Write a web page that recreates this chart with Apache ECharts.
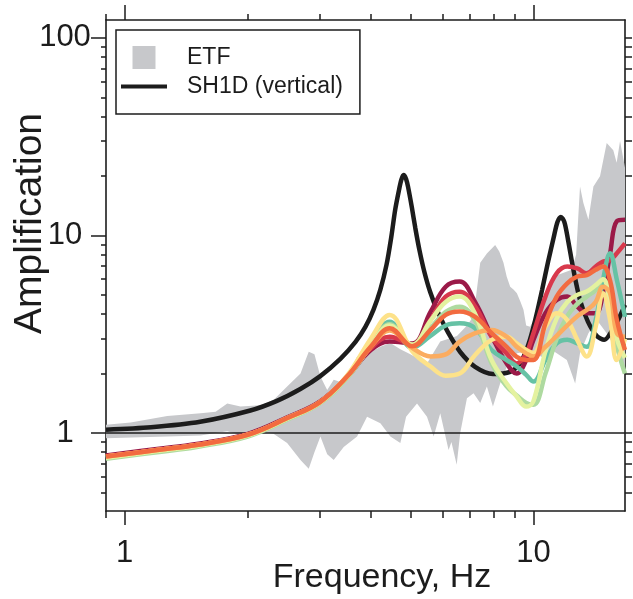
<!DOCTYPE html>
<html>
<head>
<meta charset="utf-8">
<script src="https://cdn.jsdelivr.net/npm/echarts@6/dist/echarts.min.js"></script>
<style>
  html, body { margin: 0; padding: 0; background: #fff; }
  #chart { width: 633px; height: 599px; }
</style>
</head>
<body>
<div id="chart"></div>
<script>
// Axis ranges (Hz, amplification)
const X_MIN = 0.9, X_MAX = 16.75;
const Y_MIN = 0.403, Y_MAX = 123;

// Tick positions
const xMajorTicks = [1, 10];
const xMinorTicks = [0.9, 2, 3, 4, 5, 6, 7, 8, 9];
const yMajorTicks = [1, 10, 100];
const yMinorTicks = [0.5, 0.6, 0.7, 0.8, 0.9, 2, 3, 4, 5, 6, 7, 8, 9, 20, 30, 40, 50, 60, 70, 80, 90];
const yAllTicks = yMinorTicks.concat(yMajorTicks);

// Empirical transfer function envelope: [frequency, amplification]
const etfUpper = [
  [0.899, 1.10], [1.034, 1.13], [1.271, 1.22], [1.534, 1.26], [1.669, 1.28], [1.782, 1.41],
  [1.92, 1.36], [2.149, 1.38], [2.312, 1.47], [2.497, 1.72], [2.692, 2.0], [2.82, 2.58],
  [2.912, 2.5], [3.012, 1.93], [3.129, 1.65], [3.246, 1.86], [3.434, 1.79], [3.703, 2.44],
  [3.917, 2.5], [4.222, 2.73], [4.467, 2.85], [4.725, 2.65], [4.998, 2.5], [5.49, 2.25],
  [5.916, 2.9], [6.5, 3.1], [6.876, 3.5], [7.136, 3.9], [7.41, 7.26], [7.693, 8.1],
  [8.06, 8.95], [8.25, 8.3], [8.447, 7.26], [8.6, 6.2], [8.772, 5.5], [8.95, 5.3],
  [9.11, 5.1], [9.3, 4.6], [9.455, 4.2], [9.6, 3.5], [9.815, 3.45], [10.1, 3.87],
  [10.58, 4.9], [11.19, 6.2], [12.41, 6.7], [12.72, 8.0], [13.0, 17.7], [13.25, 14.6],
  [13.63, 12.0], [14.02, 17.7], [14.55, 19.9], [15.11, 29.3], [15.68, 27.0], [15.98, 23.3],
  [16.29, 30.0], [16.75, 22.0]
];
const etfLower = [
  [0.899, 0.94], [1.271, 0.96], [1.534, 0.97], [1.669, 1.0], [1.782, 1.02], [1.92, 0.98],
  [2.149, 1.02], [2.312, 0.99], [2.497, 0.89], [2.692, 0.73], [2.82, 0.66], [2.912, 0.8],
  [3.012, 0.96], [3.129, 0.78], [3.246, 0.73], [3.434, 0.85], [3.703, 0.96], [3.917, 1.21],
  [4.222, 1.12], [4.467, 0.96], [4.725, 0.89], [4.88, 1.21], [5.19, 1.41], [5.49, 1.21],
  [5.70, 0.96], [5.916, 1.26], [6.2, 0.82], [6.3, 0.9], [6.49, 0.69], [6.62, 1.0],
  [6.876, 1.5], [7.136, 1.59], [7.41, 1.42], [7.693, 1.72], [7.96, 1.36], [8.29, 1.78],
  [8.61, 2.17], [9.11, 2.53], [9.815, 2.6], [10.58, 2.4], [11.19, 2.6], [12.07, 2.34],
  [12.65, 1.78], [13.0, 2.53], [13.63, 3.2], [14.29, 3.73], [15.11, 3.2], [15.68, 2.8],
  [16.29, 2.3], [16.75, 2.1]
];

// 1D SH vertical-incidence response: [frequency, amplification]
const sh1d = [
  [0.9, 1.04], [1.16, 1.07], [1.53, 1.14], [2.03, 1.30], [2.35, 1.45], [2.69, 1.67],
  [3.01, 1.94], [3.37, 2.37], [3.67, 2.89], [3.88, 3.44], [4.06, 4.20], [4.22, 5.30],
  [4.37, 7.09], [4.49, 9.83], [4.59, 13.5], [4.69, 17.0], [4.75, 19.1], [4.81, 20.2],
  [4.88, 19.3], [4.94, 17.4], [5.04, 13.9], [5.14, 10.9], [5.26, 8.45], [5.41, 6.53],
  [5.59, 5.17], [5.85, 4.05], [6.19, 3.21], [6.62, 2.57], [7.2, 2.16], [7.96, 1.99],
  [8.77, 2.04], [9.28, 2.26], [9.71, 2.79], [10.1, 3.73], [10.5, 5.3], [10.86, 7.35],
  [11.2, 9.7], [11.45, 11.7], [11.67, 12.4], [11.9, 11.7], [12.15, 9.5], [12.5, 6.85],
  [13.0, 4.71], [13.6, 3.65], [14.29, 3.1], [14.9, 2.96], [15.6, 3.32], [16.2, 3.82],
  [16.75, 4.45]
];

// Frequencies shared by the 2D profile responses
const freqs = [0.9, 1.2, 1.5, 2.0, 2.5, 3.0, 3.5, 4.0, 4.45, 5.05, 5.6, 6.1, 6.6, 7.2, 7.9,
  8.6, 9.1, 9.6, 10.0, 10.7, 11.4, 12.1, 12.8, 13.5, 14.2, 14.8, 15.4, 16.0, 16.75];

const profile1 = [0.77, 0.83, 0.88, 0.99, 1.20, 1.44, 1.92, 2.63, 2.9, 2.84, 4.1, 5.5, 5.84, 4.6, 3.1,
  2.25, 2.0, 2.34, 2.96, 4.04, 4.71, 4.9, 4.36, 4.04, 4.04, 5.1, 8.1, 11.8, 12.0];
const profile2 = [0.76, 0.82, 0.87, 0.98, 1.19, 1.43, 1.93, 2.68, 3.07, 2.8, 3.73, 4.9, 5.19, 4.36, 3.07,
  2.53, 2.25, 2.53, 3.2, 4.9, 6.43, 6.96, 6.8, 6.43, 6.96, 7.37, 7.5, 8.12, 9.1];
const profile3 = [0.76, 0.82, 0.87, 0.98, 1.19, 1.43, 1.93, 2.73, 3.39, 2.75, 3.32, 3.96, 4.12, 3.87, 3.2,
  2.73, 2.43, 2.34, 2.34, 3.59, 4.9, 5.72, 6.19, 6.3, 6.7, 6.96, 5.9, 3.73, 2.63];
const profile4 = [0.76, 0.82, 0.87, 0.98, 1.19, 1.43, 1.93, 2.73, 3.3, 2.7, 2.44, 2.5, 2.9, 3.2, 3.32,
  3.07, 2.73, 2.53, 2.44, 2.73, 3.1, 3.5, 3.9, 4.19, 4.6, 5.5, 5.1, 3.2, 3.07];
const profile5 = [0.76, 0.82, 0.87, 0.98, 1.19, 1.43, 1.95, 3.0, 3.96, 2.6, 2.17, 1.95, 2.0, 2.48, 2.96,
  3.07, 2.84, 2.63, 2.54, 3.45, 4.04, 3.73, 2.96, 2.44, 3.45, 5.1, 3.73, 2.34, 3.0];
const profile6 = [0.75, 0.81, 0.86, 0.97, 1.18, 1.42, 1.92, 2.75, 3.5, 2.8, 3.7, 4.6, 4.9, 4.0, 2.34,
  1.78, 1.53, 1.36, 1.45, 2.6, 3.8, 4.6, 5.0, 5.2, 5.6, 6.0, 4.5, 3.0, 2.4];
const profile7 = [0.74, 0.80, 0.85, 0.96, 1.17, 1.41, 1.90, 2.75, 3.55, 2.8, 3.4, 4.1, 4.36, 3.7, 2.25,
  1.72, 1.55, 1.42, 1.39, 2.0, 3.0, 3.9, 4.5, 4.9, 5.3, 6.0, 5.0, 2.8, 2.0];
const profile8 = [0.75, 0.81, 0.86, 0.97, 1.18, 1.42, 1.93, 2.85, 3.66, 2.7, 3.1, 3.5, 3.59, 3.39, 2.63,
  2.34, 2.17, 1.97, 1.82, 2.34, 2.84, 2.96, 2.84, 2.73, 3.73, 5.95, 8.12, 5.95, 3.87];

const FONT = 'Liberation Sans, Arial, Helvetica, sans-serif';
const INK = '#1c1c1c';
const ETF_COLOR = '#c7c8cb';

// Drawing order: first entries sit underneath
const profiles = [
  { name: 'profile 1', color: '#9b1a48', values: profile1 },
  { name: 'profile 2', color: '#d8394c', values: profile2 },
  { name: 'profile 8', color: '#66c2a5', values: profile8 },
  { name: 'profile 7', color: '#aedaa0', values: profile7 },
  { name: 'profile 6', color: '#e4f2a0', values: profile6 },
  { name: 'profile 5', color: '#fde28a', values: profile5 },
  { name: 'profile 4', color: '#fbac60', values: profile4 },
  { name: 'profile 3', color: '#f26b40', values: profile3 }
];

function logAxis(extra) {
  return Object.assign({
    type: 'log', logBase: 10, gridIndex: 0,
    splitLine: { show: false },
    axisLine: { show: false, onZero: false },
    axisLabel: { show: false },
    axisTick: { show: false }
  }, extra);
}
const tickLine = { color: INK, width: 1.5 };
const frameLine = { show: true, onZero: false, lineStyle: { color: INK, width: 1.6 } };

const xAxes = [
  logAxis({
    position: 'bottom', min: X_MIN, max: X_MAX,
    axisLine: frameLine,
    axisTick: { show: true, inside: false, length: 14, customValues: xMajorTicks, lineStyle: tickLine },
    axisLabel: { show: true, customValues: xMajorTicks, margin: 27, fontSize: 31, color: INK, fontFamily: FONT },
    name: 'Frequency, Hz', nameLocation: 'middle', nameGap: 50, nameMoveOverlap: false,
    nameTextStyle: { fontSize: 34, color: INK, fontFamily: FONT, padding: [0, 0, 0, 33] }
  }),
  logAxis({
    position: 'bottom', min: X_MIN, max: X_MAX,
    axisTick: { show: true, inside: false, length: 7, customValues: xMinorTicks, lineStyle: tickLine }
  }),
  logAxis({
    position: 'top', min: X_MIN, max: X_MAX,
    axisLine: frameLine,
    axisTick: { show: true, inside: false, length: 15, customValues: xMajorTicks, lineStyle: tickLine }
  }),
  logAxis({
    position: 'top', min: X_MIN, max: X_MAX,
    axisTick: { show: true, inside: false, length: 6, customValues: xMinorTicks, lineStyle: tickLine }
  })
];

const yAxes = [
  logAxis({
    position: 'left', min: Y_MIN, max: Y_MAX,
    axisLine: frameLine,
    axisTick: { show: true, inside: false, length: 15, customValues: yMajorTicks, lineStyle: tickLine },
    axisLabel: { show: true, customValues: yMajorTicks, margin: 41, align: 'center', fontSize: 31, color: INK, fontFamily: FONT },
    name: 'Amplification', nameLocation: 'middle', nameGap: 56, nameRotate: 90, nameMoveOverlap: false,
    nameTextStyle: { fontSize: 39, color: INK, fontFamily: FONT, padding: [0, 0, 0, 84] }
  }),
  logAxis({
    position: 'left', min: Y_MIN, max: Y_MAX,
    axisTick: { show: true, inside: false, length: 5, customValues: yMinorTicks, lineStyle: tickLine }
  }),
  logAxis({
    position: 'right', min: Y_MIN, max: Y_MAX,
    axisLine: frameLine,
    axisTick: { show: true, inside: false, length: 7, customValues: yAllTicks, lineStyle: tickLine }
  })
];

const series = [
  {
    name: 'ETF',
    type: 'custom',
    z: 1,
    clip: true,
    itemStyle: { color: ETF_COLOR },
    data: [etfUpper[0]],
    renderItem: function (params, api) {
      if (params.dataIndex !== 0) return null;
      const pts = etfUpper.map(function (p) { return api.coord(p); })
        .concat(etfLower.slice().reverse().map(function (p) { return api.coord(p); }));
      return { type: 'polygon', shape: { points: pts }, style: { fill: ETF_COLOR } };
    },
    markLine: {
      silent: true, symbol: ['none', 'none'], z: 2, animation: false,
      label: { show: false },
      lineStyle: { color: INK, width: 1.5, type: 'solid' },
      data: [{ yAxis: 1 }]
    }
  },
  {
    name: 'SH1D (vertical)',
    type: 'line',
    z: 3,
    data: sh1d,
    smooth: 0.3,
    showSymbol: false,
    lineStyle: { color: INK, width: 4.5 },
    itemStyle: { color: INK }
  }
].concat(profiles.map(function (p, i) {
  return {
    name: p.name,
    type: 'line',
    z: 4 + i * 0.01,
    data: freqs.map(function (f, k) { return [f, p.values[k]]; }),
    smooth: 0.4,
    showSymbol: false,
    lineStyle: { color: p.color, width: 4.5 },
    itemStyle: { color: p.color }
  };
}));

const chart = echarts.init(document.getElementById('chart'), null, { renderer: 'canvas' });
chart.setOption({
  animation: false,
  backgroundColor: '#fff',
  textStyle: { fontFamily: FONT },
  grid: { left: 106, top: 20, right: 8, bottom: 88, containLabel: false, outerBoundsMode: 'none' },
  legend: {
    orient: 'vertical', left: 116, top: 30,
    selectedMode: false,
    backgroundColor: '#fff',
    borderColor: INK, borderWidth: 1.5, borderRadius: 0,
    padding: [16, 17, 16, 5],
    itemWidth: 46, itemHeight: 23, itemGap: 6,
    textStyle: { fontSize: 23, color: INK, fontFamily: FONT, padding: [0, 0, 0, 15] },
    data: [
      { name: 'ETF', icon: 'path://M0,0H10V10H0Z', itemStyle: { color: ETF_COLOR, borderWidth: 0 } },
      { name: 'SH1D (vertical)', icon: 'path://M0,0H46V4H0Z', itemStyle: { color: INK, borderWidth: 0 } }
    ]
  },
  xAxis: xAxes,
  yAxis: yAxes,
  series: series
});
</script>
</body>
</html>
